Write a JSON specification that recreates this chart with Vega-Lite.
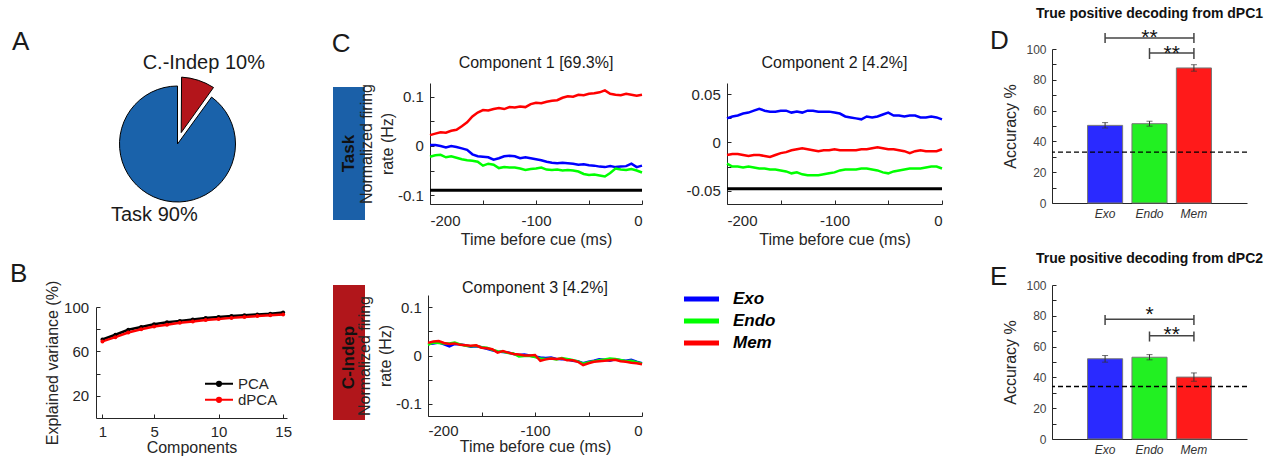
{
  "$schema": "https://vega.github.io/schema/vega-lite/v6.json",
  "background": "white",
  "padding": 0,
  "spacing": 0,
  "bounds": "flush",
  "resolve": {"scale": {"color": "independent", "theta": "independent"}, "legend": {"color": "independent"}},
  "datasets": {
    "pie": [
      {"part": "C.-Indep", "pct": 10, "label": "C.-Indep 10%"},
      {"part": "Task", "pct": 90, "label": "Task 90%"}
    ],
    "bvar": [
      {"k": 1, "PCA": 70.7, "dPCA": 69.0},
      {"k": 2, "PCA": 75.0, "dPCA": 72.8},
      {"k": 3, "PCA": 79.5, "dPCA": 77.0},
      {"k": 4, "PCA": 82.0, "dPCA": 80.0},
      {"k": 5, "PCA": 84.5, "dPCA": 82.5},
      {"k": 6, "PCA": 86.2, "dPCA": 84.0},
      {"k": 7, "PCA": 87.5, "dPCA": 85.8},
      {"k": 8, "PCA": 88.8, "dPCA": 87.0},
      {"k": 9, "PCA": 90.0, "dPCA": 88.2},
      {"k": 10, "PCA": 91.0, "dPCA": 89.2},
      {"k": 11, "PCA": 91.8, "dPCA": 90.2},
      {"k": 12, "PCA": 92.5, "dPCA": 91.0},
      {"k": 13, "PCA": 93.3, "dPCA": 91.8},
      {"k": 14, "PCA": 94.0, "dPCA": 92.5},
      {"k": 15, "PCA": 95.0, "dPCA": 93.3}
    ],
    "c1": [
      {"t": -200, "Base": -0.09, "Exo": 0.002, "Endo": -0.022, "Mem": 0.022},
      {"t": -195, "Base": -0.09, "Exo": 0.002, "Endo": -0.019, "Mem": 0.025},
      {"t": -190, "Base": -0.09, "Exo": 0.000, "Endo": -0.018, "Mem": 0.028},
      {"t": -185, "Base": -0.09, "Exo": -0.003, "Endo": -0.023, "Mem": 0.027},
      {"t": -180, "Base": -0.09, "Exo": 0.000, "Endo": -0.021, "Mem": 0.031},
      {"t": -175, "Base": -0.09, "Exo": -0.002, "Endo": -0.024, "Mem": 0.033},
      {"t": -170, "Base": -0.09, "Exo": -0.005, "Endo": -0.027, "Mem": 0.040},
      {"t": -165, "Base": -0.09, "Exo": -0.008, "Endo": -0.029, "Mem": 0.048},
      {"t": -160, "Base": -0.09, "Exo": -0.017, "Endo": -0.030, "Mem": 0.060},
      {"t": -155, "Base": -0.09, "Exo": -0.021, "Endo": -0.032, "Mem": 0.068},
      {"t": -150, "Base": -0.09, "Exo": -0.022, "Endo": -0.040, "Mem": 0.073},
      {"t": -145, "Base": -0.09, "Exo": -0.023, "Endo": -0.036, "Mem": 0.072},
      {"t": -140, "Base": -0.09, "Exo": -0.028, "Endo": -0.038, "Mem": 0.075},
      {"t": -135, "Base": -0.09, "Exo": -0.025, "Endo": -0.045, "Mem": 0.077},
      {"t": -130, "Base": -0.09, "Exo": -0.021, "Endo": -0.043, "Mem": 0.075},
      {"t": -125, "Base": -0.09, "Exo": -0.020, "Endo": -0.044, "Mem": 0.079},
      {"t": -120, "Base": -0.09, "Exo": -0.021, "Endo": -0.044, "Mem": 0.078},
      {"t": -115, "Base": -0.09, "Exo": -0.025, "Endo": -0.046, "Mem": 0.080},
      {"t": -110, "Base": -0.09, "Exo": -0.023, "Endo": -0.049, "Mem": 0.079},
      {"t": -105, "Base": -0.09, "Exo": -0.025, "Endo": -0.047, "Mem": 0.085},
      {"t": -100, "Base": -0.09, "Exo": -0.027, "Endo": -0.046, "Mem": 0.088},
      {"t": -95, "Base": -0.09, "Exo": -0.029, "Endo": -0.044, "Mem": 0.087},
      {"t": -90, "Base": -0.09, "Exo": -0.032, "Endo": -0.048, "Mem": 0.090},
      {"t": -85, "Base": -0.09, "Exo": -0.034, "Endo": -0.049, "Mem": 0.092},
      {"t": -80, "Base": -0.09, "Exo": -0.035, "Endo": -0.048, "Mem": 0.093},
      {"t": -75, "Base": -0.09, "Exo": -0.034, "Endo": -0.050, "Mem": 0.098},
      {"t": -70, "Base": -0.09, "Exo": -0.035, "Endo": -0.049, "Mem": 0.101},
      {"t": -65, "Base": -0.09, "Exo": -0.036, "Endo": -0.050, "Mem": 0.100},
      {"t": -60, "Base": -0.09, "Exo": -0.038, "Endo": -0.052, "Mem": 0.104},
      {"t": -55, "Base": -0.09, "Exo": -0.037, "Endo": -0.057, "Mem": 0.103},
      {"t": -50, "Base": -0.09, "Exo": -0.039, "Endo": -0.059, "Mem": 0.106},
      {"t": -45, "Base": -0.09, "Exo": -0.040, "Endo": -0.058, "Mem": 0.107},
      {"t": -40, "Base": -0.09, "Exo": -0.042, "Endo": -0.060, "Mem": 0.109},
      {"t": -35, "Base": -0.09, "Exo": -0.043, "Endo": -0.062, "Mem": 0.113},
      {"t": -30, "Base": -0.09, "Exo": -0.041, "Endo": -0.055, "Mem": 0.106},
      {"t": -25, "Base": -0.09, "Exo": -0.043, "Endo": -0.046, "Mem": 0.104},
      {"t": -20, "Base": -0.09, "Exo": -0.042, "Endo": -0.048, "Mem": 0.103},
      {"t": -15, "Base": -0.09, "Exo": -0.041, "Endo": -0.049, "Mem": 0.106},
      {"t": -10, "Base": -0.09, "Exo": -0.036, "Endo": -0.047, "Mem": 0.104},
      {"t": -5, "Base": -0.09, "Exo": -0.043, "Endo": -0.050, "Mem": 0.102},
      {"t": 0, "Base": -0.09, "Exo": -0.040, "Endo": -0.054, "Mem": 0.104}
    ],
    "c2": [
      {"t": -200, "Base": -0.048, "Exo": 0.025, "Endo": -0.022, "Mem": -0.013},
      {"t": -195, "Base": -0.048, "Exo": 0.027, "Endo": -0.025, "Mem": -0.012},
      {"t": -190, "Base": -0.048, "Exo": 0.028, "Endo": -0.025, "Mem": -0.012},
      {"t": -185, "Base": -0.048, "Exo": 0.030, "Endo": -0.026, "Mem": -0.013},
      {"t": -180, "Base": -0.048, "Exo": 0.031, "Endo": -0.025, "Mem": -0.014},
      {"t": -175, "Base": -0.048, "Exo": 0.033, "Endo": -0.026, "Mem": -0.013},
      {"t": -170, "Base": -0.048, "Exo": 0.035, "Endo": -0.027, "Mem": -0.013},
      {"t": -165, "Base": -0.048, "Exo": 0.033, "Endo": -0.027, "Mem": -0.014},
      {"t": -160, "Base": -0.048, "Exo": 0.032, "Endo": -0.028, "Mem": -0.015},
      {"t": -155, "Base": -0.048, "Exo": 0.032, "Endo": -0.028, "Mem": -0.013},
      {"t": -150, "Base": -0.048, "Exo": 0.033, "Endo": -0.029, "Mem": -0.011},
      {"t": -145, "Base": -0.048, "Exo": 0.033, "Endo": -0.030, "Mem": -0.010},
      {"t": -140, "Base": -0.048, "Exo": 0.031, "Endo": -0.032, "Mem": -0.008},
      {"t": -135, "Base": -0.048, "Exo": 0.032, "Endo": -0.031, "Mem": -0.007},
      {"t": -130, "Base": -0.048, "Exo": 0.031, "Endo": -0.033, "Mem": -0.006},
      {"t": -125, "Base": -0.048, "Exo": 0.033, "Endo": -0.034, "Mem": -0.007},
      {"t": -120, "Base": -0.048, "Exo": 0.033, "Endo": -0.034, "Mem": -0.008},
      {"t": -115, "Base": -0.048, "Exo": 0.032, "Endo": -0.034, "Mem": -0.009},
      {"t": -110, "Base": -0.048, "Exo": 0.032, "Endo": -0.033, "Mem": -0.008},
      {"t": -105, "Base": -0.048, "Exo": 0.032, "Endo": -0.032, "Mem": -0.008},
      {"t": -100, "Base": -0.048, "Exo": 0.031, "Endo": -0.031, "Mem": -0.007},
      {"t": -95, "Base": -0.048, "Exo": 0.030, "Endo": -0.029, "Mem": -0.008},
      {"t": -90, "Base": -0.048, "Exo": 0.027, "Endo": -0.028, "Mem": -0.008},
      {"t": -85, "Base": -0.048, "Exo": 0.026, "Endo": -0.028, "Mem": -0.008},
      {"t": -80, "Base": -0.048, "Exo": 0.025, "Endo": -0.028, "Mem": -0.008},
      {"t": -75, "Base": -0.048, "Exo": 0.024, "Endo": -0.027, "Mem": -0.007},
      {"t": -70, "Base": -0.048, "Exo": 0.027, "Endo": -0.027, "Mem": -0.007},
      {"t": -65, "Base": -0.048, "Exo": 0.026, "Endo": -0.028, "Mem": -0.006},
      {"t": -60, "Base": -0.048, "Exo": 0.027, "Endo": -0.029, "Mem": -0.005},
      {"t": -55, "Base": -0.048, "Exo": 0.029, "Endo": -0.031, "Mem": -0.006},
      {"t": -50, "Base": -0.048, "Exo": 0.031, "Endo": -0.032, "Mem": -0.007},
      {"t": -45, "Base": -0.048, "Exo": 0.028, "Endo": -0.030, "Mem": -0.007},
      {"t": -40, "Base": -0.048, "Exo": 0.028, "Endo": -0.029, "Mem": -0.008},
      {"t": -35, "Base": -0.048, "Exo": 0.027, "Endo": -0.028, "Mem": -0.009},
      {"t": -30, "Base": -0.048, "Exo": 0.028, "Endo": -0.027, "Mem": -0.011},
      {"t": -25, "Base": -0.048, "Exo": 0.028, "Endo": -0.027, "Mem": -0.009},
      {"t": -20, "Base": -0.048, "Exo": 0.026, "Endo": -0.027, "Mem": -0.008},
      {"t": -15, "Base": -0.048, "Exo": 0.026, "Endo": -0.026, "Mem": -0.009},
      {"t": -10, "Base": -0.048, "Exo": 0.027, "Endo": -0.025, "Mem": -0.009},
      {"t": -5, "Base": -0.048, "Exo": 0.026, "Endo": -0.025, "Mem": -0.009},
      {"t": 0, "Base": -0.048, "Exo": 0.024, "Endo": -0.027, "Mem": -0.007}
    ],
    "c3": [
      {"t": -200, "Exo": 0.024, "Endo": 0.022, "Mem": 0.026},
      {"t": -195, "Exo": 0.025, "Endo": 0.027, "Mem": 0.029},
      {"t": -190, "Exo": 0.027, "Endo": 0.026, "Mem": 0.030},
      {"t": -185, "Exo": 0.023, "Endo": 0.025, "Mem": 0.026},
      {"t": -180, "Exo": 0.019, "Endo": 0.025, "Mem": 0.024},
      {"t": -175, "Exo": 0.024, "Endo": 0.027, "Mem": 0.025},
      {"t": -170, "Exo": 0.023, "Endo": 0.023, "Mem": 0.022},
      {"t": -165, "Exo": 0.021, "Endo": 0.020, "Mem": 0.021},
      {"t": -160, "Exo": 0.018, "Endo": 0.019, "Mem": 0.020},
      {"t": -155, "Exo": 0.019, "Endo": 0.020, "Mem": 0.021},
      {"t": -150, "Exo": 0.017, "Endo": 0.017, "Mem": 0.016},
      {"t": -145, "Exo": 0.014, "Endo": 0.016, "Mem": 0.015},
      {"t": -140, "Exo": 0.011, "Endo": 0.012, "Mem": 0.013},
      {"t": -135, "Exo": 0.008, "Endo": 0.009, "Mem": 0.006},
      {"t": -130, "Exo": 0.007, "Endo": 0.008, "Mem": 0.009},
      {"t": -125, "Exo": 0.006, "Endo": 0.005, "Mem": 0.006},
      {"t": -120, "Exo": 0.003, "Endo": 0.004, "Mem": 0.003},
      {"t": -115, "Exo": 0.001, "Endo": -0.002, "Mem": 0.002},
      {"t": -110, "Exo": 0.002, "Endo": -0.001, "Mem": 0.000},
      {"t": -105, "Exo": 0.000, "Endo": -0.001, "Mem": 0.000},
      {"t": -100, "Exo": -0.002, "Endo": -0.003, "Mem": 0.001},
      {"t": -95, "Exo": -0.004, "Endo": -0.006, "Mem": -0.011},
      {"t": -90, "Exo": -0.005, "Endo": -0.007, "Mem": -0.008},
      {"t": -85, "Exo": -0.004, "Endo": -0.006, "Mem": -0.006},
      {"t": -80, "Exo": -0.007, "Endo": -0.008, "Mem": -0.007},
      {"t": -75, "Exo": -0.008, "Endo": -0.005, "Mem": -0.006},
      {"t": -70, "Exo": -0.008, "Endo": -0.007, "Mem": -0.010},
      {"t": -65, "Exo": -0.011, "Endo": -0.009, "Mem": -0.010},
      {"t": -60, "Exo": -0.012, "Endo": -0.012, "Mem": -0.013},
      {"t": -55, "Exo": -0.016, "Endo": -0.017, "Mem": -0.020},
      {"t": -50, "Exo": -0.013, "Endo": -0.014, "Mem": -0.016},
      {"t": -45, "Exo": -0.011, "Endo": -0.012, "Mem": -0.013},
      {"t": -40, "Exo": -0.008, "Endo": -0.010, "Mem": -0.012},
      {"t": -35, "Exo": -0.009, "Endo": -0.008, "Mem": -0.011},
      {"t": -30, "Exo": -0.011, "Endo": -0.006, "Mem": -0.010},
      {"t": -25, "Exo": -0.008, "Endo": -0.007, "Mem": -0.009},
      {"t": -20, "Exo": -0.010, "Endo": -0.009, "Mem": -0.012},
      {"t": -15, "Exo": -0.011, "Endo": -0.012, "Mem": -0.013},
      {"t": -10, "Exo": -0.009, "Endo": -0.011, "Mem": -0.015},
      {"t": -5, "Exo": -0.013, "Endo": -0.014, "Mem": -0.016},
      {"t": 0, "Exo": -0.016, "Endo": -0.017, "Mem": -0.018}
    ],
    "dacc": [
      {"cond": "Exo", "acc": 50.4, "lo": 48.7, "hi": 52.2},
      {"cond": "Endo", "acc": 51.5, "lo": 49.9, "hi": 53.1},
      {"cond": "Mem", "acc": 87.7, "lo": 85.6, "hi": 89.8}
    ],
    "dbr": [
      {"from": "Exo", "to": "Mem", "h": 107.1, "lo": 103.9, "hi": 110.4, "mid": "Endo", "sy": 107.0, "stars": "**"},
      {"from": "Endo", "to": "Mem", "h": 97.4, "lo": 93.5, "hi": 100.6, "mid": "Endo", "sy": 96.6, "stars": "**"}
    ],
    "dchance": [{"chance": 33.1}],
    "eacc": [
      {"cond": "Exo", "acc": 52.1, "lo": 49.9, "hi": 54.2},
      {"cond": "Endo", "acc": 53.1, "lo": 51.4, "hi": 54.8},
      {"cond": "Mem", "acc": 40.2, "lo": 37.5, "hi": 42.9}
    ],
    "ebr": [
      {"from": "Exo", "to": "Mem", "h": 77.8, "lo": 74.1, "hi": 80.6, "mid": "Endo", "sy": 80.2, "stars": "*"},
      {"from": "Endo", "to": "Mem", "h": 67.0, "lo": 63.3, "hi": 69.8, "mid": "Endo", "sy": 67.3, "stars": "**"}
    ],
    "echance": [{"chance": 34.1}]
  },
  "hconcat": [
    {"width": 23, "height": 1, "data": {"values": []}, "mark": "point"},
    {
      "spacing": 0, "bounds": "flush",
      "vconcat": [
        {"width": 1, "height": 30, "title": {"text": "A", "anchor": "start", "dx": -11, "offset": -55, "fontSize": 26}, "data": {"values": []}, "mark": "point"},
        {
          "width": 309, "height": 228,
          "data": {"name": "pie"},
          "encoding": {
            "theta": {"field": "pct", "type": "quantitative", "stack": true},
            "order": {"field": "part", "type": "nominal", "sort": "ascending"},
            "detail": {"field": "part", "type": "nominal"}
          },
          "layer": [
            {
              "mark": {"type": "arc", "radius": 58, "stroke": "black", "strokeWidth": 1},
              "encoding": {
                "color": {"field": "part", "type": "nominal", "scale": {"domain": ["C.-Indep", "Task"], "range": ["#b3151b", "#1a62aa"]}, "legend": null},
                "opacity": {"condition": {"test": "datum.part === 'Task'", "value": 1}, "value": 0}
              }
            },
            {
              "mark": {"type": "arc", "radius": 67, "radius2": 12, "padAngle": 0.12, "stroke": "black", "strokeWidth": 1},
              "encoding": {
                "color": {"field": "part", "type": "nominal", "scale": {"domain": ["C.-Indep", "Task"], "range": ["#b3151b", "#1a62aa"]}, "legend": null},
                "opacity": {"condition": {"test": "datum.part === 'C.-Indep'", "value": 1}, "value": 0}
              }
            },
            {
              "mark": {"type": "text", "radius": 85, "fontSize": 20, "baseline": "middle", "align": "center", "color": "#1a1a1a"},
              "encoding": {
                "text": {"field": "label"},
                "opacity": {"condition": {"test": "datum.part === 'C.-Indep'", "value": 1}, "value": 0}
              }
            },
            {
              "mark": {"type": "text", "radius": 75, "fontSize": 20, "baseline": "middle", "align": "center", "color": "#1a1a1a"},
              "encoding": {
                "text": {"field": "label"},
                "opacity": {"condition": {"test": "datum.part === 'Task'", "value": 1}, "value": 0}
              }
            }
          ]
        }
      ]
    },
    {"width": 73, "height": 1, "data": {"values": []}, "mark": "point"},
    {
      "spacing": 0, "bounds": "flush",
      "vconcat": [
        {"width": 1, "height": 307, "title": {"text": "B", "anchor": "start", "dx": -86, "offset": -287, "fontSize": 26}, "data": {"values": []}, "mark": "point"},
        {
          "width": 191, "height": 111,
          "data": {"name": "bvar"},
          "transform": [{"fold": ["PCA", "dPCA"], "as": ["method", "ev"]}],
          "mark": {"type": "line", "strokeWidth": 2.5, "point": {"filled": true, "size": 16}},
          "encoding": {
            "x": {"field": "k", "type": "quantitative", "scale": {"domain": [0.5, 15.3], "nice": false, "zero": false},
                  "axis": {"title": "Components", "values": [1, 5, 10, 15], "labelPadding": 10.9, "titlePadding": 0}},
            "y": {"field": "ev", "type": "quantitative", "scale": {"domain": [0, 100], "nice": false},
                  "axis": {"title": "Explained variance (%)", "values": [20, 40, 60, 80, 100], "labelExpr": "datum.value % 40 === 20 ? datum.label : ''", "labelPadding": 11.4, "titlePadding": 3}},
            "color": {"field": "method", "type": "nominal", "scale": {"domain": ["PCA", "dPCA"], "range": ["#000000", "#ff0000"]},
                      "legend": {"orient": "none", "legendX": 115, "legendY": 375.8, "title": null, "symbolType": "M-2,0H2M-0.3,0A0.3,0.3,0,1,1,0.3,0A0.3,0.3,0,1,1,-0.3,0", "symbolSize": 196, "symbolStrokeWidth": 2, "labelFontSize": 15, "labelColor": "#262626", "labelOffset": 11, "rowPadding": 0, "padding": 0}}
          }
        }
      ]
    },
    {"width": 237, "height": 1, "data": {"values": []}, "mark": "point"},
    {
      "spacing": 0, "bounds": "flush",
      "vconcat": [
        {"width": 32, "height": 87, "title": {"text": "C", "anchor": "start", "dx": -1.3, "offset": -57, "fontSize": 26}, "data": {"values": []}, "mark": "point"},
        {
          "width": 32, "height": 133,
          "view": {"fill": "#1b60a8"},
          "data": {"values": [{"label": "Task"}]},
          "mark": {"type": "text", "angle": 270, "fontSize": 17, "fontWeight": "bold", "color": "#111111", "baseline": "middle", "align": "center"},
          "encoding": {"text": {"field": "label"}}
        },
        {"width": 32, "height": 65, "data": {"values": []}, "mark": "point"},
        {
          "width": 32, "height": 135,
          "view": {"fill": "#b1161b"},
          "data": {"values": [{"label": "C-Indep"}]},
          "mark": {"type": "text", "angle": 270, "fontSize": 17, "fontWeight": "bold", "color": "#111111", "baseline": "middle", "align": "center", "dx": -5},
          "encoding": {"text": {"field": "label"}}
        }
      ]
    },
    {"width": 95, "height": 1, "data": {"values": []}, "mark": "point"},
    {
      "spacing": 0, "bounds": "flush",
      "vconcat": [
        {"width": 1, "height": 295, "data": {"values": []}, "mark": "point"},
        {
          "width": 214, "height": 121,
          "title": {"text": "Component 3 [4.2%]", "offset": -0.8},
          "data": {"name": "c3"},
          "transform": [{"fold": ["Exo", "Endo", "Mem"], "as": ["cond", "v"]}],
          "mark": {"type": "line", "strokeWidth": 2.5},
          "encoding": {
            "x": {"field": "t", "type": "quantitative", "scale": {"domain": [-200, 0], "nice": false},
                  "axis": {"title": "Time before cue (ms)", "values": [-200, -150, -100, -50, 0], "labelExpr": "datum.value % 100 === 0 ? replace(datum.label, '−', '-') : ''", "labelPadding": 11.9, "titlePadding": 0}},
            "y": {"field": "v", "type": "quantitative", "scale": {"domain": [-0.125, 0.125], "nice": false, "zero": false},
                  "axis": {"title": ["Normalized firing", "rate (Hz)"], "titleLineHeight": 21, "values": [-0.1, -0.05, 0, 0.05, 0.1], "format": ".2~f", "labelExpr": "datum.value === 0 || abs(datum.value) > 0.09 ? replace(datum.label, '−', '-') : ''", "labelPadding": 10.7, "titlePadding": 2}},
            "color": {"field": "cond", "type": "nominal", "scale": {"domain": ["Exo", "Endo", "Mem"], "range": ["#0000ff", "#00ff00", "#ff0000"]}, "legend": null}
          }
        }
      ]
    },
    {"width": 2, "height": 1, "data": {"values": []}, "mark": "point"},
    {
      "spacing": 0, "bounds": "flush",
      "vconcat": [
        {"width": 1, "height": 83, "data": {"values": []}, "mark": "point"},
        {
          "width": 212, "height": 121,
          "title": {"text": "Component 1 [69.3%]", "offset": 12.2},
          "data": {"name": "c1"},
          "transform": [{"fold": ["Base", "Exo", "Endo", "Mem"], "as": ["cond", "v"]}],
          "mark": {"type": "line"},
          "encoding": {
            "x": {"field": "t", "type": "quantitative", "scale": {"domain": [-200, 0], "nice": false},
                  "axis": {"title": "Time before cue (ms)", "values": [-200, -150, -100, -50, 0], "labelExpr": "datum.value % 100 === 0 ? replace(datum.label, '−', '-') : ''", "labelPadding": 13.5, "titlePadding": 3}},
            "y": {"field": "v", "type": "quantitative", "scale": {"domain": [-0.118, 0.128], "nice": false, "zero": false},
                  "axis": {"title": ["Normalized firing", "rate (Hz)"], "titleLineHeight": 21, "values": [-0.1, -0.05, 0, 0.05, 0.1], "format": ".2~f", "labelExpr": "datum.value === 0 || abs(datum.value) > 0.09 ? replace(datum.label, '−', '-') : ''", "labelPadding": 10.7, "titlePadding": 2}},
            "color": {"field": "cond", "type": "nominal", "scale": {"domain": ["Base", "Exo", "Endo", "Mem"], "range": ["#000000", "#0000ff", "#00ff00", "#ff0000"]}, "legend": null},
            "strokeWidth": {"condition": {"test": "datum.cond === 'Base'", "value": 3.2}, "value": 2.5}
          }
        }
      ]
    },
    {"width": 297, "height": 1, "data": {"values": []}, "mark": "point"},
    {
      "spacing": 0, "bounds": "flush",
      "vconcat": [
        {"width": 1, "height": 83, "data": {"values": []}, "mark": "point"},
        {
          "width": 215, "height": 121,
          "title": {"text": "Component 2 [4.2%]", "offset": 12.2},
          "data": {"name": "c2"},
          "transform": [{"fold": ["Base", "Exo", "Endo", "Mem"], "as": ["cond", "v"]}],
          "mark": {"type": "line"},
          "encoding": {
            "x": {"field": "t", "type": "quantitative", "scale": {"domain": [-200, 0], "nice": false},
                  "axis": {"title": "Time before cue (ms)", "values": [-200, -150, -100, -50, 0], "labelExpr": "datum.value % 100 === 0 ? replace(datum.label, '−', '-') : ''", "labelPadding": 13.5, "titlePadding": 3}},
            "y": {"field": "v", "type": "quantitative", "scale": {"domain": [-0.0638, 0.0617], "nice": false, "zero": false},
                  "axis": {"title": null, "values": [-0.05, -0.025, 0, 0.025, 0.05], "format": ".3~f", "labelExpr": "datum.value === 0 || abs(datum.value) > 0.04 ? replace(datum.label, '−', '-') : ''", "labelPadding": 10.7}},
            "color": {"field": "cond", "type": "nominal", "scale": {"domain": ["Base", "Exo", "Endo", "Mem"], "range": ["#000000", "#0000ff", "#00ff00", "#ff0000"]},
                      "legend": {"values": ["Exo", "Endo", "Mem"], "orient": "none", "legendX": -36.5, "legendY": 288.1, "title": null, "symbolType": "M-2.06,0H2.06", "symbolSize": 289, "symbolStrokeWidth": 5, "labelFontSize": 17, "labelFontWeight": "bold", "labelFontStyle": "italic", "labelColor": "#000000", "labelOffset": 20.5, "rowPadding": 1, "padding": 0}},
            "strokeWidth": {"condition": {"test": "datum.cond === 'Base'", "value": 3.2}, "value": 2.5}
          }
        }
      ]
    },
    {"width": 325, "height": 1, "data": {"values": []}, "mark": "point"},
    {
      "spacing": 0, "bounds": "flush",
      "vconcat": [
        {"width": 195, "height": 20, "title": {"text": "True positive decoding from dPC1", "fontSize": 14, "fontWeight": "bold", "offset": -21.2, "color": "#111111"}, "data": {"values": []}, "mark": "point"},
        {"width": 195, "height": 29, "title": {"text": "D", "anchor": "start", "dx": -62, "offset": -34, "fontSize": 26}, "data": {"values": []}, "mark": "point"},
        {
          "width": 195, "height": 154,
          "resolve": {"axis": {"y": "independent"}},
          "layer": [
            {
              "data": {"name": "dacc"},
              "mark": {"type": "bar", "stroke": "#777777", "strokeWidth": 1},
              "encoding": {
                "x": {"field": "cond", "type": "nominal", "sort": ["Exo", "Endo", "Mem"], "scale": {"domain": ["Exo", "Endo", "Mem"], "paddingInner": 0.21, "paddingOuter": 0.8},
                      "axis": {"title": null, "ticks": false, "labelAngle": 0, "labelFontSize": 12, "labelFontStyle": "italic", "labelColor": "#333333", "labelPadding": 5}},
                "y": {"field": "acc", "type": "quantitative", "scale": {"domain": [0, 100], "nice": false},
                      "axis": {"orient": "left", "title": "Accuracy %", "values": [0, 20, 40, 60, 80, 100], "labelOverlap": false, "labelFontSize": 12, "labelColor": "#444444", "labelPadding": 10, "titlePadding": 7}},
                "color": {"field": "cond", "type": "nominal", "scale": {"domain": ["Exo", "Endo", "Mem"], "range": ["#2a2aff", "#22f022", "#ff1a1a"]}, "legend": null}
              }
            },
            {
              "data": {"name": "dacc"},
              "mark": {"type": "errorbar", "ticks": {"size": 6}, "color": "#333333", "thickness": 1},
              "encoding": {
                "x": {"field": "cond", "type": "nominal", "axis": {"title": null}},
                "y": {"field": "lo", "type": "quantitative", "axis": {"orient": "left", "title": null, "values": [10, 30, 50, 70, 90], "labels": false, "domain": false}},
                "y2": {"field": "hi"}
              }
            },
            {
              "data": {"name": "dchance"},
              "mark": {"type": "rule", "strokeDash": [5, 3], "color": "#000000", "strokeWidth": 1.3},
              "encoding": {"y": {"field": "chance", "type": "quantitative", "axis": null}}
            },
            {
              "data": {"name": "dbr"},
              "mark": {"type": "rule", "color": "#444444", "strokeWidth": 1.5},
              "encoding": {
                "x": {"field": "from", "type": "nominal"},
                "x2": {"field": "to"},
                "y": {"field": "h", "type": "quantitative", "axis": null}
              }
            },
            {
              "data": {"name": "dbr"},
              "transform": [{"fold": ["from", "to"], "as": ["end", "cat"]}],
              "mark": {"type": "rule", "color": "#444444", "strokeWidth": 1.5},
              "encoding": {
                "x": {"field": "cat", "type": "nominal"},
                "y": {"field": "lo", "type": "quantitative", "axis": null},
                "y2": {"field": "hi"}
              }
            },
            {
              "data": {"name": "dbr"},
              "transform": [{"filter": "datum.from === 'Exo'"}],
              "mark": {"type": "text", "fontSize": 21, "baseline": "middle", "align": "center", "color": "#111111"},
              "encoding": {
                "x": {"field": "mid", "type": "nominal", "bandPosition": 0.5},
                "y": {"field": "sy", "type": "quantitative", "axis": null},
                "text": {"field": "stars"}
              }
            },
            {
              "data": {"name": "dbr"},
              "transform": [{"filter": "datum.from === 'Endo'"}],
              "mark": {"type": "text", "fontSize": 21, "baseline": "middle", "align": "center", "color": "#111111"},
              "encoding": {
                "x": {"field": "mid", "type": "nominal", "bandPosition": 1.134},
                "y": {"field": "sy", "type": "quantitative", "axis": null},
                "text": {"field": "stars"}
              }
            }
          ]
        },
        {"width": 195, "height": 40, "title": {"text": "E", "anchor": "start", "dx": -62, "offset": -87, "fontSize": 26}, "data": {"values": []}, "mark": "point"},
        {"width": 195, "height": 42, "title": {"text": "True positive decoding from dPC2", "fontSize": 14, "fontWeight": "bold", "offset": -22.5, "color": "#111111"}, "data": {"values": []}, "mark": "point"},
        {
          "width": 195, "height": 154,
          "resolve": {"axis": {"y": "independent"}},
          "layer": [
            {
              "data": {"name": "eacc"},
              "mark": {"type": "bar", "stroke": "#777777", "strokeWidth": 1},
              "encoding": {
                "x": {"field": "cond", "type": "nominal", "sort": ["Exo", "Endo", "Mem"], "scale": {"domain": ["Exo", "Endo", "Mem"], "paddingInner": 0.21, "paddingOuter": 0.8},
                      "axis": {"title": null, "ticks": false, "labelAngle": 0, "labelFontSize": 12, "labelFontStyle": "italic", "labelColor": "#333333", "labelPadding": 5}},
                "y": {"field": "acc", "type": "quantitative", "scale": {"domain": [0, 100], "nice": false},
                      "axis": {"orient": "left", "title": "Accuracy %", "values": [0, 20, 40, 60, 80, 100], "labelOverlap": false, "labelFontSize": 12, "labelColor": "#444444", "labelPadding": 10, "titlePadding": 7}},
                "color": {"field": "cond", "type": "nominal", "scale": {"domain": ["Exo", "Endo", "Mem"], "range": ["#2a2aff", "#22f022", "#ff1a1a"]}, "legend": null}
              }
            },
            {
              "data": {"name": "eacc"},
              "mark": {"type": "errorbar", "ticks": {"size": 6}, "color": "#333333", "thickness": 1},
              "encoding": {
                "x": {"field": "cond", "type": "nominal", "axis": {"title": null}},
                "y": {"field": "lo", "type": "quantitative", "axis": {"orient": "left", "title": null, "values": [10, 30, 50, 70, 90], "labels": false, "domain": false}},
                "y2": {"field": "hi"}
              }
            },
            {
              "data": {"name": "echance"},
              "mark": {"type": "rule", "strokeDash": [5, 3], "color": "#000000", "strokeWidth": 1.3},
              "encoding": {"y": {"field": "chance", "type": "quantitative", "axis": null}}
            },
            {
              "data": {"name": "ebr"},
              "mark": {"type": "rule", "color": "#444444", "strokeWidth": 1.5},
              "encoding": {
                "x": {"field": "from", "type": "nominal"},
                "x2": {"field": "to"},
                "y": {"field": "h", "type": "quantitative", "axis": null}
              }
            },
            {
              "data": {"name": "ebr"},
              "transform": [{"fold": ["from", "to"], "as": ["end", "cat"]}],
              "mark": {"type": "rule", "color": "#444444", "strokeWidth": 1.5},
              "encoding": {
                "x": {"field": "cat", "type": "nominal"},
                "y": {"field": "lo", "type": "quantitative", "axis": null},
                "y2": {"field": "hi"}
              }
            },
            {
              "data": {"name": "ebr"},
              "transform": [{"filter": "datum.from === 'Exo'"}],
              "mark": {"type": "text", "fontSize": 21, "baseline": "middle", "align": "center", "color": "#111111"},
              "encoding": {
                "x": {"field": "mid", "type": "nominal", "bandPosition": 0.5},
                "y": {"field": "sy", "type": "quantitative", "axis": null},
                "text": {"field": "stars"}
              }
            },
            {
              "data": {"name": "ebr"},
              "transform": [{"filter": "datum.from === 'Endo'"}],
              "mark": {"type": "text", "fontSize": 21, "baseline": "middle", "align": "center", "color": "#111111"},
              "encoding": {
                "x": {"field": "mid", "type": "nominal", "bandPosition": 1.134},
                "y": {"field": "sy", "type": "quantitative", "axis": null},
                "text": {"field": "stars"}
              }
            }
          ]
        }
      ]
    }
  ],
  "config": {
    "font": "Liberation Sans",
    "view": {"stroke": null},
    "axis": {
      "grid": false,
      "domainColor": "#262626",
      "domainWidth": 1,
      "tickColor": "#262626",
      "tickSize": -4,
      "labelOverlap": false,
      "labelColor": "#262626",
      "titleColor": "#262626",
      "labelFont": "Liberation Sans",
      "titleFont": "Liberation Sans",
      "labelFontSize": 15,
      "titleFontSize": 16,
      "titleFontWeight": "normal"
    },
    "title": {"font": "Liberation Sans", "fontSize": 16, "fontWeight": "normal", "color": "#1a1a1a", "frame": "group", "baseline": "alphabetic"},
    "legend": {"labelFont": "Liberation Sans"}
  }
}
